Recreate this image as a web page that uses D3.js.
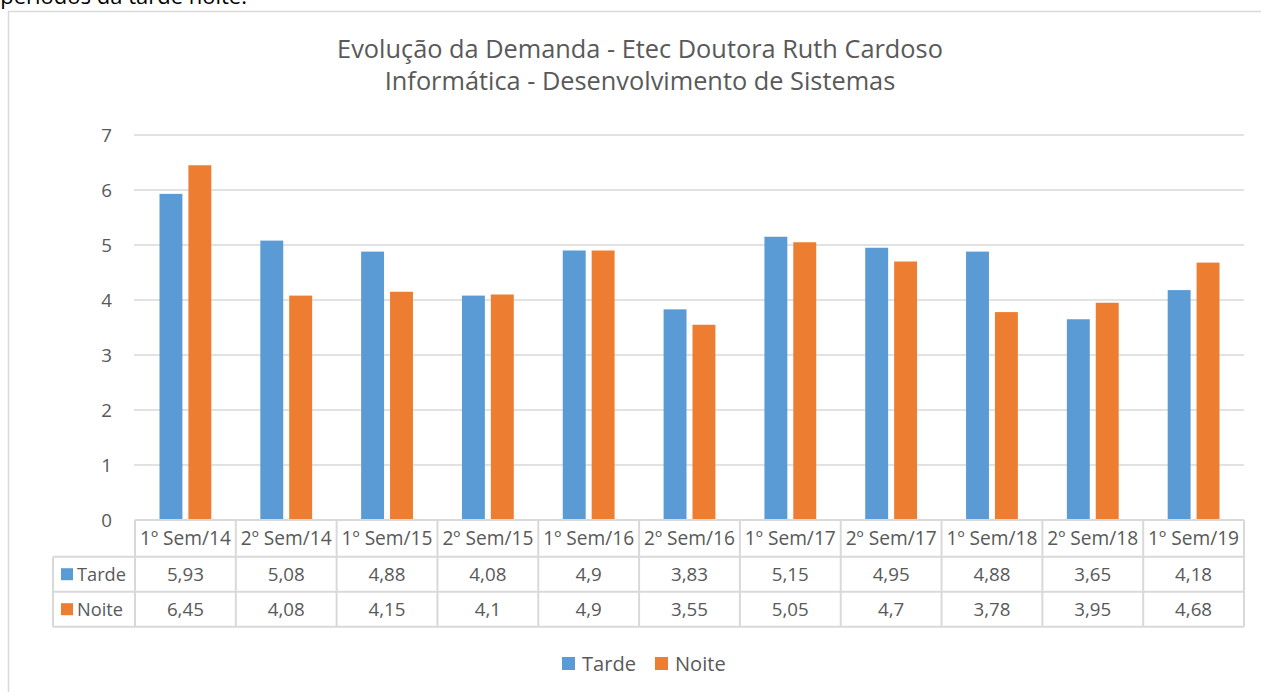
<!DOCTYPE html>
<html>
<head>
<meta charset="utf-8">
<script src="https://cdn.jsdelivr.net/npm/d3@7"></script>
<style>
  html, body { margin: 0; padding: 0; background: #fff; overflow: hidden; }
  svg { display: block; }
</style>
</head>
<body>
<svg id="chart" width="1261" height="692"></svg>
<script>
// chart values
var categories = ["1º Sem/14", "2º Sem/14", "1º Sem/15", "2º Sem/15", "1º Sem/16", "2º Sem/16",
                  "1º Sem/17", "2º Sem/17", "1º Sem/18", "2º Sem/18", "1º Sem/19"];
var tarde = [5.93, 5.08, 4.88, 4.08, 4.9, 3.83, 5.15, 4.95, 4.88, 3.65, 4.18];
var noite = [6.45, 4.08, 4.15, 4.1, 4.9, 3.55, 5.05, 4.7, 3.78, 3.95, 4.68];
var seriesNames = ["Tarde", "Noite"];
var yTicks = [0, 1, 2, 3, 4, 5, 6, 7];
var titleLines = ["Evolução da Demanda - Etec Doutora Ruth Cardoso",
                  "Informática - Desenvolvimento de Sistemas"];

var colors = ["#5B9BD5", "#ED7D31"];
var textColor = "#595959";
var lineColor = "#D9D9D9";
var font = "'Open Sans', 'Noto Sans', sans-serif";

var svg = d3.select("#chart");

// pick a font size so that a sample string is as wide as in the picture
function fitSize(str, target) {
  var t = svg.append("text").attr("font-family", font).attr("font-size", 100).text(str);
  var w = t.node().getComputedTextLength();
  t.remove();
  return 100 * target / w;
}

var labelSize = fitSize("1º Sem/14", 91);
var valueSize = fitSize("5,93", 37);
var titleSize = fitSize(titleLines[0], 606);

var table = [tarde, noite];

var x = d3.scaleBand().domain(categories).range([135, 1244]).padding(0);
var inner = d3.scaleBand().domain(seriesNames)
    .range([24.5, x.bandwidth() - 24.5]).paddingInner(0.207);
var y = d3.scaleLinear().domain([0, 7]).range([520, 135]);

// text cut off above the chart
svg.append("text")
    .attr("x", 247).attr("y", 4)
    .attr("text-anchor", "end")
    .attr("font-family", font).attr("font-size", 22)
    .attr("fill", "#000")
    .text("períodos da tarde noite.");

// chart frame (left and top edges only visible)
svg.append("path")
    .attr("d", "M8.5,700V11.5H1270")
    .attr("fill", "none").attr("stroke", lineColor).attr("stroke-width", 1.5);

// title
svg.append("text")
    .attr("font-family", font).attr("font-size", titleSize)
    .attr("fill", textColor).attr("text-anchor", "middle")
    .selectAll("tspan").data(titleLines).enter().append("tspan")
    .attr("x", 640).attr("y", function(d, i) { return 58 + i * 32; })
    .text(function(d) { return d; });

// gridlines
svg.append("g").selectAll("line").data(yTicks.filter(function(d) { return d > 0; }))
  .enter().append("line")
    .attr("x1", 134).attr("x2", 1244)
    .attr("y1", function(d) { return y(d); }).attr("y2", function(d) { return y(d); })
    .attr("stroke", lineColor).attr("stroke-width", 1.3);

// y labels
svg.append("g").selectAll("text").data(yTicks).enter().append("text")
    .attr("x", 112).attr("y", function(d) { return y(d); })
    .attr("dy", "0.35em").attr("text-anchor", "end")
    .attr("font-family", font).attr("font-size", valueSize).attr("fill", textColor)
    .text(function(d) { return d; });

// bars
var groups = svg.append("g").selectAll("g").data(categories).enter().append("g")
    .attr("transform", function(d) { return "translate(" + x(d) + ",0)"; });
groups.selectAll("rect")
    .data(function(d, i) { return seriesNames.map(function(s, j) { return {s: s, v: table[j][i], j: j}; }); })
  .enter().append("rect")
    .attr("x", function(d) { return inner(d.s); })
    .attr("width", inner.bandwidth())
    .attr("y", function(d) { return y(d.v); })
    .attr("height", function(d) { return y(0) - y(d.v); })
    .attr("fill", function(d) { return colors[d.j]; });

// data table
var rowY = [520, 556.7, 591.7, 626.7];
var tbl = svg.append("g").attr("stroke", lineColor).attr("stroke-width", 2).attr("fill", "none");
tbl.append("line").attr("x1", 135).attr("x2", 1244).attr("y1", rowY[0]).attr("y2", rowY[0]);
rowY.slice(1).forEach(function(ry) {
  tbl.append("line").attr("x1", 53).attr("x2", 1244).attr("y1", ry).attr("y2", ry);
});
tbl.append("line").attr("x1", 53).attr("x2", 53).attr("y1", rowY[1]).attr("y2", rowY[3]);
categories.concat([null]).forEach(function(c, i) {
  var cx = c === null ? x.range()[1] : x(c);
  tbl.append("line").attr("x1", cx).attr("x2", cx).attr("y1", rowY[0]).attr("y2", rowY[3]);
});

function fmt(v) { return String(v).replace(".", ","); }

svg.append("g").selectAll("text").data(categories).enter().append("text")
    .attr("x", function(d) { return x(d) + x.bandwidth() / 2; })
    .attr("y", (rowY[0] + rowY[1]) / 2).attr("dy", "0.35em")
    .attr("text-anchor", "middle")
    .attr("font-family", font).attr("font-size", labelSize).attr("fill", textColor)
    .text(function(d) { return d; });

table.forEach(function(vals, j) {
  var cy = (rowY[j + 1] + rowY[j + 2]) / 2;
  var row = svg.append("g");
  row.selectAll("text").data(vals).enter().append("text")
      .attr("x", function(d, i) { return x(categories[i]) + x.bandwidth() / 2; })
      .attr("y", cy).attr("dy", "0.35em").attr("text-anchor", "middle")
      .attr("font-family", font).attr("font-size", valueSize).attr("fill", textColor)
      .text(fmt);
  row.append("rect").attr("x", 61).attr("y", cy - 6).attr("width", 12).attr("height", 12)
      .attr("fill", colors[j]);
  row.append("text").attr("x", 77).attr("y", cy).attr("dy", "0.35em")
      .attr("font-family", font).attr("font-size", fitSize("Tarde", 49)).attr("fill", textColor)
      .text(seriesNames[j]);
});

// legend
var legend = svg.append("g");
var lx = 562;
seriesNames.forEach(function(s, j) {
  legend.append("rect").attr("x", lx).attr("y", 657).attr("width", 13).attr("height", 13)
      .attr("fill", colors[j]);
  var t = legend.append("text").attr("x", lx + 20).attr("y", 663.5).attr("dy", "0.35em")
      .attr("font-family", font).attr("font-size", fitSize("Tarde", 54)).attr("fill", textColor)
      .text(s);
  lx += 20 + t.node().getComputedTextLength() + 19;
});
</script>
</body>
</html>
